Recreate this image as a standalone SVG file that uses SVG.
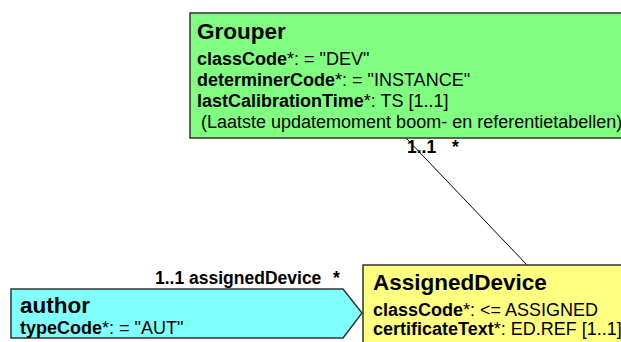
<svg xmlns="http://www.w3.org/2000/svg" width="621" height="342" viewBox="0 0 621 342">
  <style>
    .box { stroke: #333333; stroke-width: 1.5; }
    .title { font-family: "Liberation Sans", Arial, sans-serif; font-weight: bold; font-size: 22.5px; fill: #000; }
    .attr { font-family: "Liberation Sans", Arial, sans-serif; font-size: 18px; fill: #000; }
    .attr .b { font-weight: bold; }
    .lbl { font-family: "Liberation Sans", Arial, sans-serif; font-weight: bold; font-size: 17.5px; fill: #000; }
    .conn { stroke: #000; stroke-width: 1; fill: none; }
  </style>
  <rect width="621" height="342" fill="#ffffff"/>

  <g id="connectors">
    <line class="conn" x1="406" y1="138" x2="527" y2="265"/>
    <text class="lbl" x="407" y="153">1..1</text>
    <text class="lbl" x="452" y="153">*</text>
    <text class="lbl" x="155" y="284">1..1 assignedDevice</text>
    <text class="lbl" x="333" y="284">*</text>
  </g>

  <g id="grouper">
    <rect class="box" x="190" y="13" width="440" height="125" fill="#80ff80"/>
    <text class="title" x="197" y="39">Grouper</text>
    <text class="attr" x="197" y="65"><tspan class="b">classCode</tspan>*: = "DEV"</text>
    <text class="attr" x="197" y="86"><tspan class="b">determinerCode</tspan>*: = "INSTANCE"</text>
    <text class="attr" x="197" y="107"><tspan class="b">lastCalibrationTime</tspan>*: TS [1..1]</text>
    <text class="attr" x="201" y="128">(Laatste updatemoment boom- en referentietabellen)</text>
  </g>

  <g id="author">
    <polygon class="box" points="11,289 343,289 362,313 343,338 11,338" fill="#80ffff"/>
    <text class="title" x="20" y="313">author</text>
    <text class="attr" x="20" y="334"><tspan class="b">typeCode</tspan>*: = "AUT"</text>
  </g>

  <g id="assignedDevice">
    <rect class="box" x="363" y="265" width="270" height="90" fill="#ffff80"/>
    <text class="title" x="373" y="290">AssignedDevice</text>
    <text class="attr" x="373" y="316"><tspan class="b">classCode</tspan>*: &lt;= ASSIGNED</text>
    <text class="attr" x="373" y="335"><tspan class="b">certificateText</tspan>*: ED.REF [1..1]</text>
  </g>
</svg>
